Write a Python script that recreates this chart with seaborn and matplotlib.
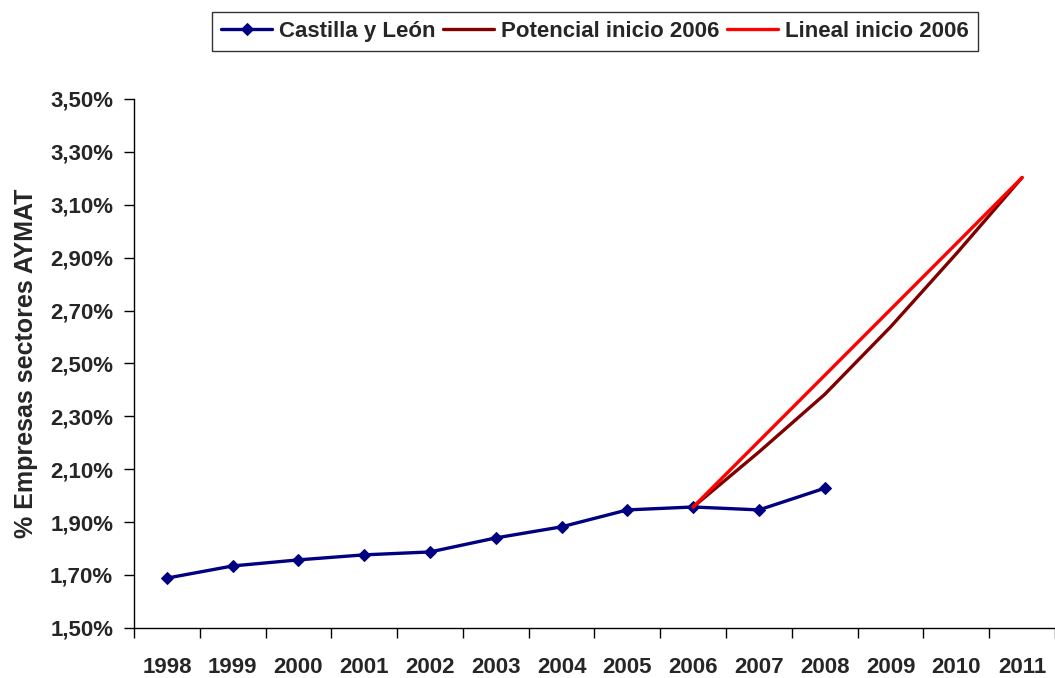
import numpy as np
import pandas as pd
import matplotlib
matplotlib.use("Agg")
import matplotlib.pyplot as plt
import seaborn as sns
from matplotlib.ticker import FuncFormatter, FixedLocator

years = ["1998", "1999", "2000", "2001", "2002", "2003", "2004",
         "2005", "2006", "2007", "2008", "2009", "2010", "2011"]

castilla_years = ["1998", "1999", "2000", "2001", "2002", "2003",
                  "2004", "2005", "2006", "2007", "2008"]
castilla = [1.688, 1.734, 1.757, 1.776, 1.787, 1.840,
            1.882, 1.946, 1.957, 1.946, 2.028]

trend_years = ["2006", "2007", "2008", "2009", "2010", "2011"]
potencial = [1.957, 2.165, 2.383, 2.638, 2.915, 3.203]
lineal = [1.957, 2.206, 2.455, 2.704, 2.953, 3.203]

sns.set_style("white")
plt.rcParams["font.family"] = ["Liberation Sans", "DejaVu Sans"]
plt.rcParams["font.weight"] = "bold"

pos = {y: i for i, y in enumerate(years)}
df_cyl = pd.DataFrame({"x": [pos[y] for y in castilla_years], "v": castilla})
df_pot = pd.DataFrame({"x": [pos[y] for y in trend_years], "v": potencial})
df_lin = pd.DataFrame({"x": [pos[y] for y in trend_years], "v": lineal})

fig = plt.figure(figsize=(10.55, 6.78), dpi=100)
ax = fig.add_axes([0.127, 0.074, 0.873, 0.78])

sns.lineplot(data=df_cyl, x="x", y="v", ax=ax, color="#000080", linewidth=2.4,
             marker="D", markersize=6.5, markeredgecolor="#000080",
             label="Castilla y León")
sns.lineplot(data=df_pot, x="x", y="v", ax=ax, color="#800000", linewidth=2.4,
             label="Potencial inicio 2006")
sns.lineplot(data=df_lin, x="x", y="v", ax=ax, color="#FF0000", linewidth=2.4,
             label="Lineal inicio 2006")

ax.set_xlim(-0.5, len(years) - 0.5)
ax.set_ylim(1.5, 3.5)
ax.set_yticks(np.arange(1.5, 3.51, 0.2))
ax.yaxis.set_major_formatter(FuncFormatter(lambda v, p: f"{v:.2f}%".replace(".", ",")))

# ticks between categories, labels at category centres
ax.xaxis.set_major_locator(FixedLocator(np.arange(-0.5, len(years), 1.0)))
ax.xaxis.set_major_formatter(FuncFormatter(lambda v, p: ""))
ax.set_xticks(np.arange(len(years)), labels=years, minor=True)
ax.tick_params(axis="x", which="major", direction="out", length=7, width=1,
               color="black", bottom=True)
ax.tick_params(axis="x", which="minor", length=0, pad=21, labelsize=16)
ax.tick_params(axis="y", direction="out", length=7, width=1, color="black",
               left=True, labelsize=16, pad=8)
for lab in ax.get_xticklabels(minor=True) + ax.get_yticklabels():
    lab.set_fontweight("bold")

ax.set_xlabel("")
ax.set_ylabel("% Empresas sectores AYMAT", fontsize=18, fontweight="bold",
              labelpad=9)

for s in ["top", "right"]:
    ax.spines[s].set_visible(False)
for s in ["left", "bottom"]:
    ax.spines[s].set_color("black")
    ax.spines[s].set_linewidth(1)

leg = ax.legend(loc="center", bbox_to_anchor=(0.564, 0.954),
                bbox_transform=fig.transFigure, ncol=3, frameon=True,
                fancybox=False, edgecolor="black", handlelength=2.3,
                handletextpad=0.3, columnspacing=0.35, borderpad=0.4,
                prop={"weight": "bold", "size": 16})
leg.get_frame().set_linewidth(1)

fig.savefig("out.png", dpi=100)
